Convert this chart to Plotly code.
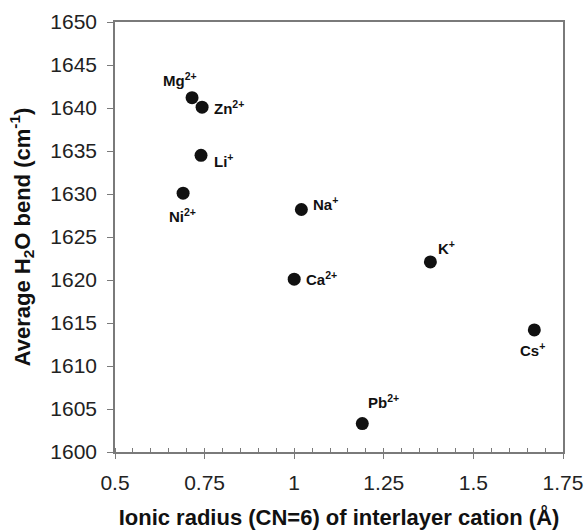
import plotly.graph_objects as go

cations = ["Mg<sup>2+</sup>", "Zn<sup>2+</sup>", "Li<sup>+</sup>", "Ni<sup>2+</sup>", "Na<sup>+</sup>",
           "Ca<sup>2+</sup>", "K<sup>+</sup>", "Cs<sup>+</sup>", "Pb<sup>2+</sup>"]
radius = [0.715, 0.743, 0.74, 0.69, 1.02, 1.0, 1.38, 1.67, 1.19]
bend = [1641.2, 1640.1, 1634.5, 1630.1, 1628.2, 1620.1, 1622.1, 1614.2, 1603.3]

# label placement (pixel offsets relative to each point)
label_dx = [-12, 10, 11, -1, 10, 10, 6, -2, 4]
label_dy = [18, 0, -5, -22, 6, 1, 14, -20, 22]
label_anchor = ["center", "left", "left", "center", "left", "left", "left", "center", "left"]

x_ticks = [0.5, 0.75, 1.0, 1.25, 1.5, 1.75]
x_ticktext = ["0.5", "0.75", "1", "1.25", "1.5", "1.75"]
y_ticks = [1600, 1605, 1610, 1615, 1620, 1625, 1630, 1635, 1640, 1645, 1650]

FONT = "Arial, Liberation Sans, Helvetica, sans-serif"

fig = go.Figure()
fig.add_trace(go.Scatter(
    x=radius, y=bend, mode="markers",
    marker=dict(size=13, color="#111111", line=dict(width=0)),
    cliponaxis=False, showlegend=False, hoverinfo="skip"))

for name, xv, yv, dx, dy, anc in zip(cations, radius, bend, label_dx, label_dy, label_anchor):
    fig.add_annotation(x=xv, y=yv, xref="x", yref="y", text="<b>" + name + "</b>",
                       showarrow=False, xanchor=anc, yanchor="middle",
                       xshift=dx, yshift=dy,
                       font=dict(family=FONT, size=15, color="#111111"))

fig.update_layout(
    width=586, height=531,
    margin=dict(l=115, r=23, t=22, b=79),
    paper_bgcolor="white", plot_bgcolor="white",
    font=dict(family=FONT, color="#222222"),
)
fig.update_xaxes(
    range=[0.5, 1.75], tickvals=x_ticks, ticktext=x_ticktext,
    showgrid=False, zeroline=False, automargin=False,
    showline=True, linecolor="#7a7a7a", linewidth=1.5, mirror=True,
    ticks="outside", ticklen=5, tickcolor="#7a7a7a", ticklabelstandoff=6,
    minor=dict(dtick=0.05, ticks="inside", ticklen=4, tickcolor="#7a7a7a"),
    tickfont=dict(family=FONT, size=21, color="#222222"),
    title=dict(text="<b>Ionic radius (CN=6) of interlayer cation (Å)</b>",
               font=dict(family=FONT, size=22, color="#111111"), standoff=17),
)
fig.update_yaxes(
    range=[1600, 1650], tickvals=y_ticks,
    showgrid=False, zeroline=False, automargin=False,
    showline=True, linecolor="#7a7a7a", linewidth=1.5, mirror=True,
    ticks="outside", ticklen=6, tickcolor="#7a7a7a", ticklabelstandoff=6,
    tickfont=dict(family=FONT, size=21, color="#222222"),
    title=dict(text="<b>Average H<sub>2</sub>O bend (cm<sup>-1</sup>)</b>",
               font=dict(family=FONT, size=22, color="#111111"), standoff=14),
)

fig.write_html("out.html")
